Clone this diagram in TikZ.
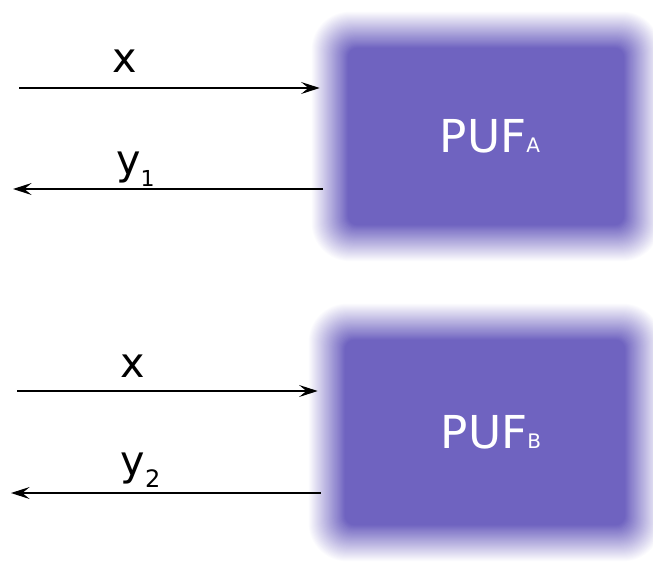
\documentclass[tikz,border=0pt]{standalone}
\usepackage{fontspec}
\setmainfont{DejaVu Sans}
\usetikzlibrary{arrows.meta,backgrounds}
\definecolor{pufviolet}{RGB}{111,99,192}

\tikzset{
  flow/.style={draw=black, line width=0.9pt,
    -{Stealth[length=14pt,width=9pt,inset=5.5pt]}},
  pufbox/.style={inner sep=0pt, text=white,
    font=\fontsize{34}{40}\selectfont},
  sig/.style={font=\fontsize{31}{36}\selectfont, anchor=base, inner sep=0pt},
}

% soft-edged violet box behind node #1: stacked translucent layers whose
% combined opacity ramps linearly across the edge
\newcommand\softbox[1]{%
  \foreach \k in {1,...,36}{
    \pgfmathsetmacro\op{1/(37-\k)}
    \pgfmathsetmacro\dpx{18.5-(\k-0.5)*37/36}
    \pgfmathsetmacro\dd{\dpx*0.75}
    \pgfmathsetmacro\ndd{-\dd}
    \pgfmathsetmacro\rr{(9+(18.5+\dpx)*0.8)*0.75}
    \fill[pufviolet, fill opacity=\op, rounded corners=\rr pt]
      ([shift={(\ndd pt,\ndd pt)}]#1.south west) rectangle
      ([shift={(\dd pt,\dd pt)}]#1.north east);
  }}

\begin{document}
\begin{tikzpicture}[x=0.75pt, y=-0.75pt]
  \useasboundingbox (0,0) rectangle (653,562);

  % the two PUF instances
  \node[pufbox, minimum width=234pt, minimum height=159.75pt] (A) at (486,136.5)
    {\hspace*{6pt}PUF{\fontsize{15}{18}\selectfont A}};
  \node[pufbox, minimum width=237pt, minimum height=165.75pt] (B) at (485,432.5)
    {\hspace*{9pt}PUF{\fontsize{15}{18}\selectfont B}};

  \begin{scope}[on background layer]
    \softbox{A}
    \softbox{B}
  \end{scope}

  % challenge / response for PUF A
  \coordinate (inA) at (19,88);
  \coordinate (outA) at (13,189);
  \draw[flow, shorten >=7.5pt] (inA) -- (inA -| A.west);
  \draw[flow, shorten <=5pt] (outA -| A.west) -- (outA);
  \node[sig] (xa) at (125,72) {x};
  \node[sig] (ya) at (135.5,174) {y\raisebox{-9pt}{\fontsize{16.5}{20}\selectfont 1}};

  % challenge / response for PUF B
  \coordinate (inB) at (17,391);
  \coordinate (outB) at (11,493);
  \draw[flow, shorten >=6.75pt] (inB) -- (inB -| B.west);
  \draw[flow, shorten <=4.5pt] (outB -| B.west) -- (outB);
  \node[sig] (xb) at (132.5,377) {x};
  \node[sig] (yb) at (140.5,475) {y\raisebox{-9pt}{\fontsize{18}{22}\selectfont 2}};
\end{tikzpicture}
\end{document}
